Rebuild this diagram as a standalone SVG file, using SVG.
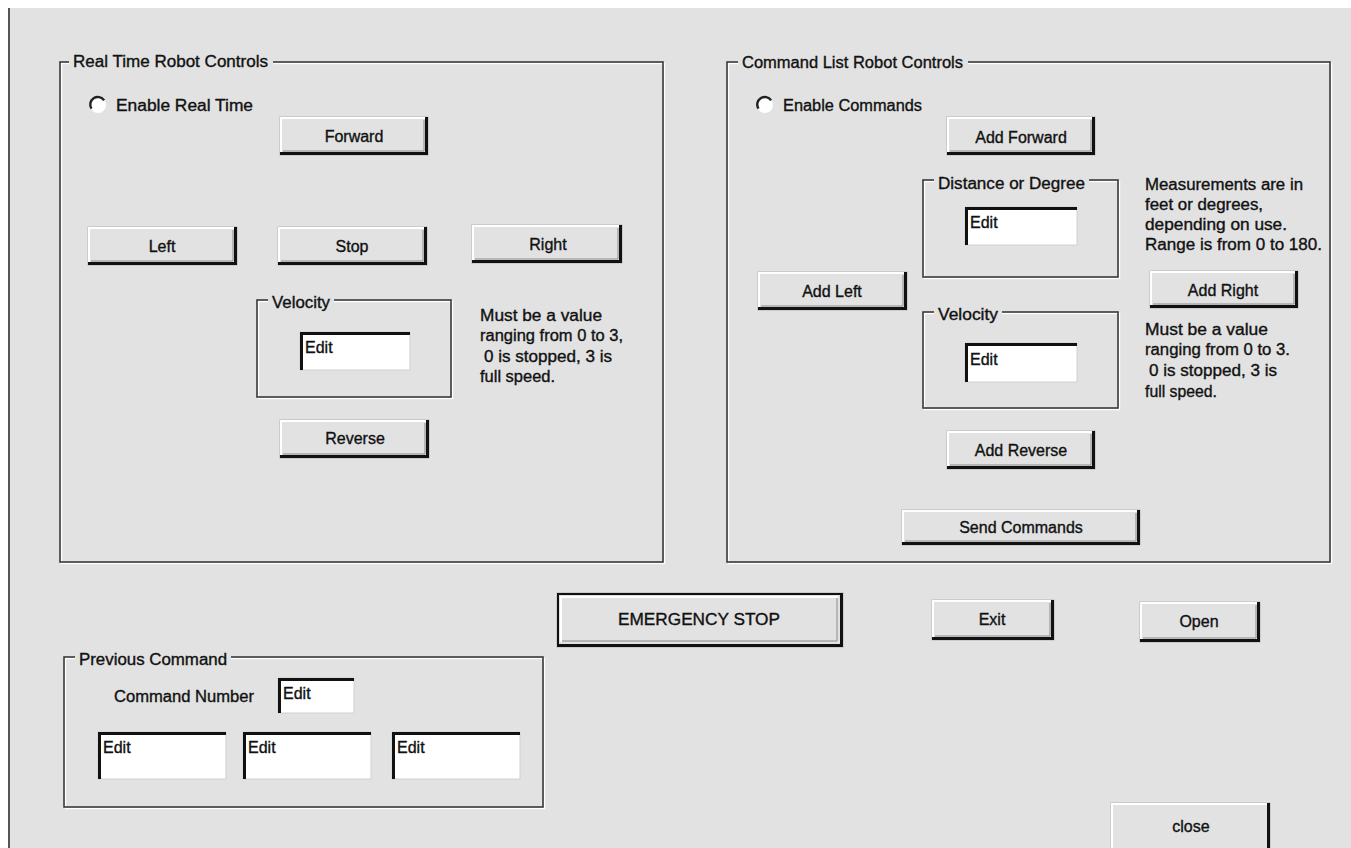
<svg xmlns="http://www.w3.org/2000/svg" width="1351" height="848" viewBox="0 0 1351 848">
  <style>
    text { font-family: "Liberation Sans", Arial, sans-serif; font-size: 16px; fill: #111; stroke: #111; stroke-width: 0.35; }
    .c { text-anchor: middle; }
    .bg { fill: #e2e2e2; }
    .frame { fill: none; stroke: #3a3a3a; stroke-width: 1.6; }
    .frame-hi { fill: none; stroke: #ffffff; stroke-width: 1.4; }
    .btn-face { fill: #e2e2e2; stroke: #b4b4b4; stroke-width: 1; }
    .btn-hi { fill: none; stroke: #ffffff; stroke-width: 2; }
    .btn-sh { fill: none; stroke: #111; stroke-width: 3; }
    .btn-mid { fill: none; stroke: #8a8a8a; stroke-width: 1; }
    .edit { fill: #ffffff; stroke: #d0d0d0; stroke-width: 1; }
    .edit-sunk { fill: none; stroke: #111; stroke-width: 3; }
    .radio { fill: #ffffff; }
    .radio-arc { fill: none; stroke: #222; stroke-width: 2.4; }
  </style>

  <!-- window background and left border -->
  <rect x="0" y="0" width="1351" height="848" fill="#ffffff"/>
  <rect x="9" y="8" width="1342" height="840" class="bg"/>
  <line x1="9" y1="8" x2="9" y2="848" stroke="#555" stroke-width="2"/>

  <!-- Real Time Robot Controls -->
  <g id="group-realtime">
    <rect x="61.5" y="63.5" width="603" height="500" class="frame-hi"/>
    <rect x="60" y="62" width="603" height="500" class="frame"/>
    <rect x="69" y="52" width="204" height="20" class="bg"/>
    <text x="73" y="67" textLength="195" lengthAdjust="spacingAndGlyphs">Real Time Robot Controls</text>
  </g>

  <g id="radio-realtime">
    <circle cx="98" cy="105" r="8" class="radio"/>
    <path d="M104.1,100.4 A7.5,7.5 0 0 0 91.5,108.7" class="radio-arc"/>
    <text x="116" y="111" textLength="137" lengthAdjust="spacingAndGlyphs">Enable Real Time</text>
  </g>

  <g id="btn-forward">
    <rect x="280" y="117" width="148" height="38" class="btn-face"/>
    <path d="M281,153 V118 H426" class="btn-hi"/>
    <path d="M283,151 H424 V120" class="btn-mid"/>
    <path d="M280,153.5 H426.5 V117" class="btn-sh"/>
    <text x="354" y="142" class="c">Forward</text>
  </g>

  <g id="btn-left">
    <rect x="88" y="227" width="149" height="38" class="btn-face"/>
    <path d="M89,263 V228 H235" class="btn-hi"/>
    <path d="M91,261 H233 V230" class="btn-mid"/>
    <path d="M88,263.5 H235.5 V227" class="btn-sh"/>
    <text x="162" y="252" class="c">Left</text>
  </g>

  <g id="btn-stop">
    <rect x="278" y="227" width="149" height="38" class="btn-face"/>
    <path d="M279,263 V228 H425" class="btn-hi"/>
    <path d="M281,261 H423 V230" class="btn-mid"/>
    <path d="M278,263.5 H425.5 V227" class="btn-sh"/>
    <text x="352" y="252" class="c">Stop</text>
  </g>

  <g id="btn-right">
    <rect x="472" y="225" width="150" height="38" class="btn-face"/>
    <path d="M473,261 V226 H620" class="btn-hi"/>
    <path d="M475,259 H618 V228" class="btn-mid"/>
    <path d="M472,261.5 H620.5 V225" class="btn-sh"/>
    <text x="548" y="250" class="c">Right</text>
  </g>

  <g id="group-velocity-rt">
    <rect x="258.5" y="301.5" width="194" height="97" class="frame-hi"/>
    <rect x="257" y="300" width="194" height="97" class="frame"/>
    <rect x="268" y="292" width="66" height="18" class="bg"/>
    <text x="272" y="308" textLength="58" lengthAdjust="spacingAndGlyphs">Velocity</text>
  </g>

  <g id="edit-velocity-rt">
    <rect x="300" y="332" width="110" height="38" class="edit"/>
    <path d="M301.5,370 V333.5 H410" class="edit-sunk"/>
    <text x="305" y="353">Edit</text>
  </g>

  <g id="note-velocity-rt">
    <text x="480" y="321" textLength="122" lengthAdjust="spacingAndGlyphs">Must be a value</text>
    <text x="480" y="341" textLength="143" lengthAdjust="spacingAndGlyphs">ranging from 0 to 3,</text>
    <text x="484" y="362" textLength="128" lengthAdjust="spacingAndGlyphs">0 is stopped, 3 is</text>
    <text x="480" y="382" textLength="75" lengthAdjust="spacingAndGlyphs">full speed.</text>
  </g>

  <g id="btn-reverse">
    <rect x="280" y="420" width="149" height="38" class="btn-face"/>
    <path d="M281,456 V421 H427" class="btn-hi"/>
    <path d="M283,454 H425 V423" class="btn-mid"/>
    <path d="M280,456.5 H427.5 V420" class="btn-sh"/>
    <text x="355" y="444" class="c">Reverse</text>
  </g>

  <!-- Command List Robot Controls -->
  <g id="group-commandlist">
    <rect x="728.5" y="63.5" width="603" height="500" class="frame-hi"/>
    <rect x="727" y="62" width="603" height="500" class="frame"/>
    <rect x="738" y="52" width="230" height="20" class="bg"/>
    <text x="742" y="68" textLength="221" lengthAdjust="spacingAndGlyphs">Command List Robot Controls</text>
  </g>

  <g id="radio-commands">
    <circle cx="765" cy="105" r="8" class="radio"/>
    <path d="M771.1,100.4 A7.5,7.5 0 0 0 758.5,108.7" class="radio-arc"/>
    <text x="783" y="111" textLength="139" lengthAdjust="spacingAndGlyphs">Enable Commands</text>
  </g>

  <g id="btn-add-forward">
    <rect x="947" y="117" width="148" height="38" class="btn-face"/>
    <path d="M948,153 V118 H1093" class="btn-hi"/>
    <path d="M950,151 H1091 V120" class="btn-mid"/>
    <path d="M947,153.5 H1093.5 V117" class="btn-sh"/>
    <text x="1021" y="143" class="c">Add Forward</text>
  </g>

  <g id="group-distance">
    <rect x="924.5" y="181.5" width="195" height="97" class="frame-hi"/>
    <rect x="923" y="180" width="195" height="97" class="frame"/>
    <rect x="934" y="172" width="155" height="18" class="bg"/>
    <text x="938" y="189" textLength="147" lengthAdjust="spacingAndGlyphs">Distance or Degree</text>
  </g>

  <g id="edit-distance">
    <rect x="965" y="207" width="112" height="38" class="edit"/>
    <path d="M966.5,245 V208.5 H1077" class="edit-sunk"/>
    <text x="970" y="228">Edit</text>
  </g>

  <g id="note-measurements">
    <text x="1145" y="190" textLength="158" lengthAdjust="spacingAndGlyphs">Measurements are in</text>
    <text x="1145" y="210" textLength="118" lengthAdjust="spacingAndGlyphs">feet or degrees,</text>
    <text x="1145" y="230" textLength="142" lengthAdjust="spacingAndGlyphs">depending on use.</text>
    <text x="1145" y="250" textLength="177" lengthAdjust="spacingAndGlyphs">Range is from 0 to 180.</text>
  </g>

  <g id="btn-add-left">
    <rect x="758" y="272" width="149" height="38" class="btn-face"/>
    <path d="M759,308 V273 H905" class="btn-hi"/>
    <path d="M761,306 H903 V275" class="btn-mid"/>
    <path d="M758,308.5 H905.5 V272" class="btn-sh"/>
    <text x="832" y="297" class="c">Add Left</text>
  </g>

  <g id="btn-add-right">
    <rect x="1150" y="271" width="148" height="37" class="btn-face"/>
    <path d="M1151,306 V272 H1296" class="btn-hi"/>
    <path d="M1153,304 H1294 V274" class="btn-mid"/>
    <path d="M1150,306.5 H1296.5 V271" class="btn-sh"/>
    <text x="1223" y="296" class="c">Add Right</text>
  </g>

  <g id="group-velocity-cmd">
    <rect x="924.5" y="313.5" width="195" height="96" class="frame-hi"/>
    <rect x="923" y="312" width="195" height="96" class="frame"/>
    <rect x="934" y="304" width="68" height="18" class="bg"/>
    <text x="938" y="320" textLength="60" lengthAdjust="spacingAndGlyphs">Velocity</text>
  </g>

  <g id="edit-velocity-cmd">
    <rect x="965" y="343" width="112" height="39" class="edit"/>
    <path d="M966.5,382 V344.5 H1077" class="edit-sunk"/>
    <text x="970" y="365">Edit</text>
  </g>

  <g id="note-velocity-cmd">
    <text x="1145" y="335" textLength="123" lengthAdjust="spacingAndGlyphs">Must be a value</text>
    <text x="1145" y="355" textLength="145" lengthAdjust="spacingAndGlyphs">ranging from 0 to 3.</text>
    <text x="1149" y="376" textLength="128" lengthAdjust="spacingAndGlyphs">0 is stopped, 3 is</text>
    <text x="1145" y="397" textLength="72" lengthAdjust="spacingAndGlyphs">full speed.</text>
  </g>

  <g id="btn-add-reverse">
    <rect x="947" y="431" width="148" height="38" class="btn-face"/>
    <path d="M948,467 V432 H1093" class="btn-hi"/>
    <path d="M950,465 H1091 V434" class="btn-mid"/>
    <path d="M947,467.5 H1093.5 V431" class="btn-sh"/>
    <text x="1021" y="456" class="c">Add Reverse</text>
  </g>

  <g id="btn-send-commands">
    <rect x="902" y="510" width="238" height="35" class="btn-face"/>
    <path d="M903,543 V511 H1138" class="btn-hi"/>
    <path d="M905,541 H1136 V513" class="btn-mid"/>
    <path d="M902,543.5 H1138.5 V510" class="btn-sh"/>
    <text x="1021" y="533" class="c">Send Commands</text>
  </g>

  <!-- bottom row buttons -->
  <g id="btn-emergency-stop">
    <rect x="557" y="593" width="286" height="54" class="btn-face"/>
    <rect x="558" y="594" width="284" height="52" fill="none" stroke="#111" stroke-width="2"/>
    <path d="M561,642 V597 H838" class="btn-hi"/>
    <path d="M562,641 H837 V598" class="btn-mid"/>
    <path d="M557,645.5 H841.5 V593" fill="none" stroke="#111" stroke-width="3"/>
    <text x="699" y="625" class="c" textLength="162" lengthAdjust="spacingAndGlyphs">EMERGENCY STOP</text>
  </g>

  <g id="btn-exit">
    <rect x="932" y="600" width="122" height="40" class="btn-face"/>
    <path d="M933,638 V601 H1052" class="btn-hi"/>
    <path d="M935,636 H1050 V603" class="btn-mid"/>
    <path d="M932,638.5 H1052.5 V600" class="btn-sh"/>
    <text x="992" y="625" class="c">Exit</text>
  </g>

  <g id="btn-open">
    <rect x="1140" y="602" width="120" height="40" class="btn-face"/>
    <path d="M1141,640 V603 H1258" class="btn-hi"/>
    <path d="M1143,638 H1256 V605" class="btn-mid"/>
    <path d="M1140,640.5 H1258.5 V602" class="btn-sh"/>
    <text x="1199" y="627" class="c">Open</text>
  </g>

  <!-- Previous Command -->
  <g id="group-previous">
    <rect x="65.5" y="658.5" width="479" height="150" class="frame-hi"/>
    <rect x="64" y="657" width="479" height="150" class="frame"/>
    <rect x="75" y="648" width="156" height="18" class="bg"/>
    <text x="79" y="665" textLength="148" lengthAdjust="spacingAndGlyphs">Previous Command</text>
  </g>

  <g id="label-command-number">
    <text x="114" y="702" textLength="140" lengthAdjust="spacingAndGlyphs">Command Number</text>
  </g>

  <g id="edit-command-number">
    <rect x="278" y="678" width="76" height="35" class="edit"/>
    <path d="M279.5,713 V679.5 H354" class="edit-sunk"/>
    <text x="283" y="699">Edit</text>
  </g>

  <g id="edit-prev-1">
    <rect x="98" y="732" width="128" height="47" class="edit"/>
    <path d="M99.5,779 V733.5 H226" class="edit-sunk"/>
    <text x="103" y="753">Edit</text>
  </g>

  <g id="edit-prev-2">
    <rect x="243" y="732" width="128" height="47" class="edit"/>
    <path d="M244.5,779 V733.5 H371" class="edit-sunk"/>
    <text x="248" y="753">Edit</text>
  </g>

  <g id="edit-prev-3">
    <rect x="392" y="732" width="128" height="47" class="edit"/>
    <path d="M393.5,779 V733.5 H520" class="edit-sunk"/>
    <text x="397" y="753">Edit</text>
  </g>

  <g id="btn-close">
    <rect x="1111" y="803" width="159" height="48" class="btn-face"/>
    <path d="M1112,850 V804 H1268" class="btn-hi"/>
    <path d="M1268.5,850 V803" class="btn-sh"/>
    <text x="1191" y="832" class="c">close</text>
  </g>

  <!-- no connectors in this layout -->
  <g id="connectors"/>
</svg>
